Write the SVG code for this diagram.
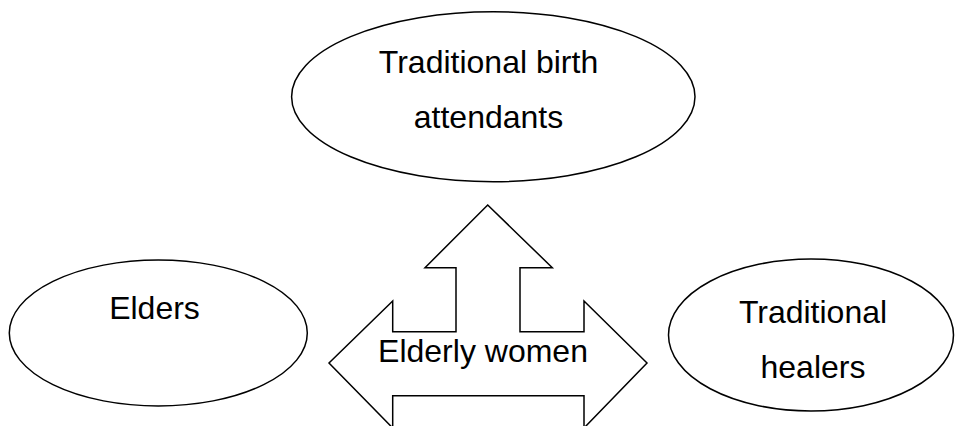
<svg xmlns="http://www.w3.org/2000/svg" width="955" height="426" viewBox="0 0 955 426">
<style>
.shape{fill:#fff;stroke:#000;stroke-width:1.5}
.t{font-family:"Liberation Sans",Arial,sans-serif;font-size:32px;fill:#000;text-anchor:middle}
</style>
<rect width="955" height="426" fill="#fff"/>
<g id="connectors">
<path class="shape" d="M487.7,205 L552.3,267.7 L520,267.7 L520,331.7 L584,331.7 L584,301 L647,363 L584,428 L584,395.7 L392.7,395.7 L392.7,428 L329,363 L392.7,301 L392.7,331.7 L456,331.7 L456,267.7 L425,267.7 Z"/>
<text class="t" x="483" y="362">Elderly women</text>
</g>
<g id="node-tba">
<ellipse class="shape" cx="493.3" cy="96.7" rx="201.7" ry="85"/>
<text class="t" x="488.5" y="73">Traditional birth</text>
<text class="t" x="488.5" y="127.5">attendants</text>
</g>
<g id="node-elders">
<ellipse class="shape" cx="158.3" cy="333" rx="149" ry="73"/>
<text class="t" x="154.5" y="319">Elders</text>
</g>
<g id="node-healers">
<ellipse class="shape" cx="811" cy="335" rx="142.5" ry="76"/>
<text class="t" x="813" y="323">Traditional</text>
<text class="t" x="813" y="378">healers</text>
</g>
</svg>
